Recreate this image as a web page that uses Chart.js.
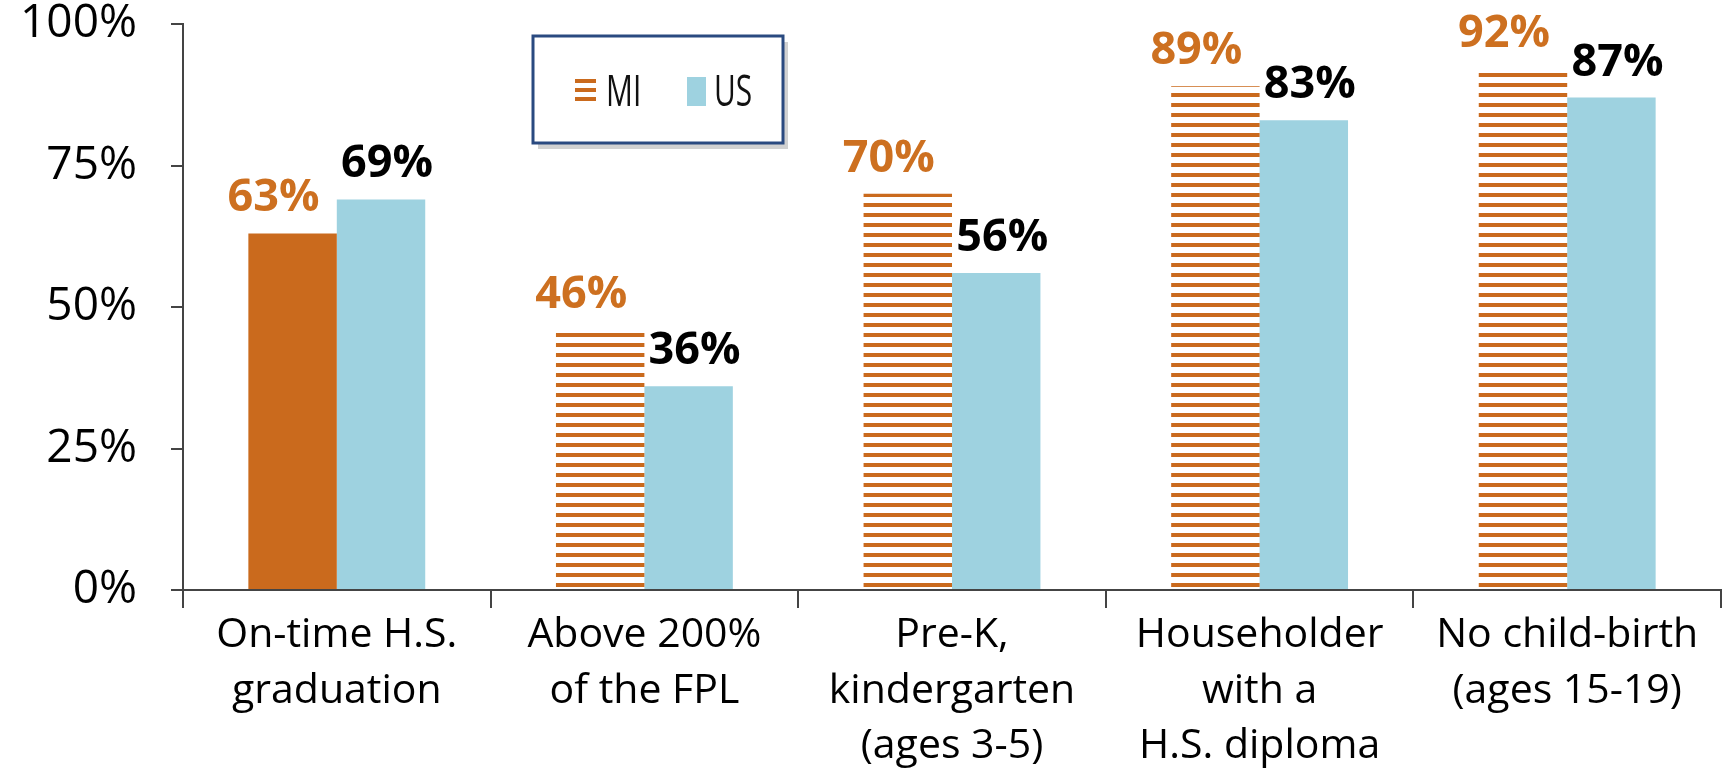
<!DOCTYPE html>
<html>
<head>
<meta charset="utf-8">
<script src="https://cdn.jsdelivr.net/npm/chart.js@4"></script>
<style>
  body { margin: 0; background: #fff; }
  #wrap { width: 1724px; height: 770px; position: relative; }
</style>
</head>
<body>
<div id="wrap"><canvas id="bar-chart"></canvas></div>
<script>
const categories = [
  ["On-time H.S.", "graduation"],
  ["Above 200%", "of the FPL"],
  ["Pre-K,", "kindergarten", "(ages 3-5)"],
  ["Householder", "with a", "H.S. diploma"],
  ["No child-birth", "(ages 15-19)"]
];
const miValues = [63, 46, 70, 89, 92];
const usValues = [69, 36, 56, 83, 87];
const yTicks = [0, 25, 50, 75, 100];

const orange = "#CA6A1D";
const blue = "#9ED2E0";
const font = "'Open Sans', sans-serif";

function stripes(color) {
  const c = document.createElement("canvas");
  c.width = 10; c.height = 10;
  const g = c.getContext("2d");
  g.fillStyle = color;
  g.fillRect(0, 3, 10, 4);
  return g.createPattern(c, "repeat");
}
const striped = stripes(orange);
// first MI bar is solid, the rest are striped
const miFill = miValues.map((v, i) => i === 0 ? orange : striped);

const labelsPlugin = {
  id: "valueLabels",
  afterDatasetsDraw(chart) {
    const ctx = chart.ctx;
    ctx.save();
    ctx.font = "bold 45px " + font;
    ctx.textAlign = "center";
    ctx.textBaseline = "alphabetic";
    chart.data.datasets.forEach((ds, di) => {
      chart.getDatasetMeta(di).data.forEach((bar, i) => {
        ctx.fillStyle = di === 0 ? "#CD7020" : "#000";
        const dx = di === 0 ? -19 : 6;
        ctx.fillText(ds.data[i] + "%", bar.x + dx, bar.y - 22);
      });
    });
    ctx.restore();
  }
};

const legendPlugin = {
  id: "boxLegend",
  afterDraw(chart) {
    const ctx = chart.ctx;
    ctx.save();
    // shadow
    ctx.fillStyle = "rgba(0,0,0,0.18)";
    ctx.fillRect(538, 42, 250, 107);
    ctx.fillStyle = "#fff";
    ctx.fillRect(533, 36, 250, 107);
    ctx.strokeStyle = "#2A4A80";
    ctx.lineWidth = 3;
    ctx.strokeRect(533, 36, 250, 107);
    // MI swatch
    ctx.fillStyle = orange;
    for (let k = 0; k < 3; k++) ctx.fillRect(575, 79 + k * 9, 21, 4);
    ctx.fillStyle = blue;
    ctx.fillRect(687, 77, 19, 29);
    ctx.fillStyle = "#111";
    ctx.font = "44px " + font;
    ctx.textBaseline = "alphabetic";
    ctx.textAlign = "left";
    [["MI", 606], ["US", 714]].forEach(([t, x]) => {
      ctx.save();
      ctx.translate(x, 106);
      ctx.scale(0.68, 1);
      ctx.fillText(t, 0, 0);
      ctx.restore();
    });
    ctx.restore();
  }
};

new Chart(document.getElementById("bar-chart"), {
  type: "bar",
  data: {
    labels: categories,
    datasets: [
      { label: "MI", data: miValues, backgroundColor: miFill,
        barPercentage: 1, categoryPercentage: 0.575 },
      { label: "US", data: usValues, backgroundColor: blue,
        barPercentage: 1, categoryPercentage: 0.575 }
    ]
  },
  options: {
    responsive: true,
    maintainAspectRatio: false,
    animation: false,
    layout: { padding: { top: 24, right: 3, left: 0, bottom: 0 } },
    plugins: { legend: { display: false }, tooltip: { enabled: false } },
    scales: {
      x: {
        grid: { display: true, drawOnChartArea: false, tickLength: 18, color: "#444", lineWidth: 2 },
        border: { color: "#444", width: 2 },
        ticks: { color: "#000", font: { family: font, size: 41, lineHeight: 1.35 }, padding: 0,
                 maxRotation: 0, autoSkip: false },
        afterFit(scale) { scale.height = 180; }
      },
      y: {
        min: 0, max: 100,
        afterBuildTicks(scale) { scale.ticks = yTicks.map(v => ({ value: v })); },
        grid: { display: true, drawOnChartArea: false, tickLength: 12, color: "#444", lineWidth: 2 },
        border: { color: "#444", width: 2 },
        ticks: { color: "#000", font: { family: font, size: 46 }, padding: 34,
                 callback: v => v + "%" },
        afterFit(scale) {
          scale.width = 183;
          scale.paddingTop = 0;
          scale.paddingBottom = 0;
        }
      }
    }
  },
  plugins: [labelsPlugin, legendPlugin]
});
</script>
</body>
</html>
